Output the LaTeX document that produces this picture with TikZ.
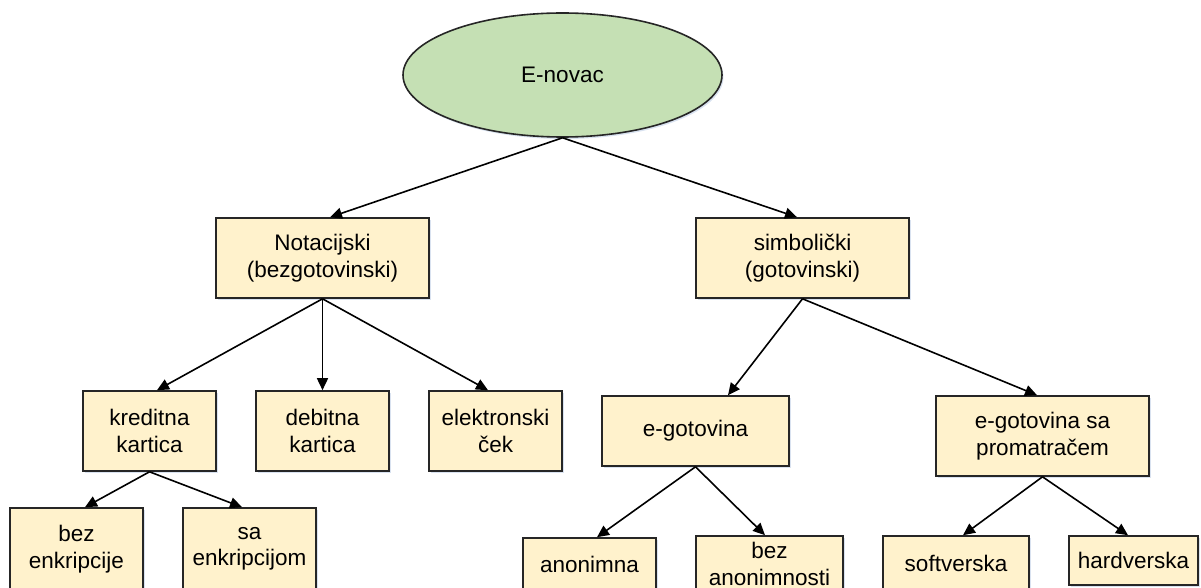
\documentclass[tikz,border=0pt]{standalone}
\usepackage{fontspec}
\setmainfont{Liberation Sans}
\usetikzlibrary{arrows.meta,shapes.geometric,shadows}
\definecolor{boxfill}{HTML}{FFF2CC}
\definecolor{ellfill}{HTML}{C5E0B4}
\definecolor{edge}{HTML}{262626}
\definecolor{shadowc}{HTML}{C9D6EA}
\tikzset{
  shad/.style={drop shadow={shadow xshift=1.5pt,shadow yshift=-2pt,fill=shadowc,opacity=0.7}},
  box/.style={draw=edge,line width=1.6pt,fill=boxfill,shad,inner sep=0pt,align=center,
    font=\fontsize{22.5}{26.5}\selectfont},
  ell/.style={ellipse,draw=edge,line width=1.6pt,fill=ellfill,shad,inner sep=0pt,
    minimum width=319pt,minimum height=124pt,font=\fontsize{22.5}{26.5}\selectfont},
  arr/.style={line width=1.6pt,-{Triangle[length=12pt,width=11pt]}}
}
\begin{document}
\begin{tikzpicture}[x=1pt,y=-1pt]
\useasboundingbox (0,0) rectangle (1201,588);
\node[ell] (root) at (562.5,75) {E-novac};
\node[box,minimum width=213pt,minimum height=80pt] (nota) at (322.5,258) {Notacijski\\(bezgotovinski)};
\node[box,minimum width=213pt,minimum height=80pt] (simb) at (802.5,258) {simbolički\\(gotovinski)};
\node[box,minimum width=133pt,minimum height=80pt] (kred) at (149.5,431) {kreditna\\kartica};
\node[box,minimum width=133pt,minimum height=80pt] (debi) at (322.5,431) {debitna\\kartica};
\node[box,minimum width=133pt,minimum height=80pt] (elek) at (495.5,431) {elektronski\\ček};
\node[box,minimum width=187pt,minimum height=70pt] (egot) at (695.5,431) {e-gotovina};
\node[box,minimum width=213pt,minimum height=80pt] (egsp) at (1042.5,436) {e-gotovina sa\\promatračem};
\node[box,minimum width=133pt,minimum height=82pt] (bezenk) at (76.5,549) {bez\\enkripcije};
\node[box,minimum width=133pt,minimum height=82pt] (saenk) at (249.5,549) {sa\\enkripcijom};
\node[box,minimum width=133pt,minimum height=52pt] (anon) at (589.5,564) {anonimna};
\node[box,minimum width=147pt,minimum height=56pt] (bezanon) at (769.5,564) {bez\\anonimnosti};
\node[box,minimum width=146pt,minimum height=54pt] (soft) at (956,563) {softverska};
\node[box,minimum width=129pt,minimum height=49pt] (hard) at (1133.5,560.5) {hardverska};

\draw[arr] (root.south) -- ([xshift=7.5pt]nota.north);
\draw[arr] (root.south) -- ([xshift=-5.5pt]simb.north);
\draw[arr] (nota.south) -- ([xshift=7.5pt]kred.north);
\draw[arr] (nota.south) -- (debi.north);
\draw[arr] (nota.south) -- ([xshift=-7.5pt]elek.north);
\draw[arr] (simb.south) -- ([xshift=32.5pt]egot.north);
\draw[arr] (simb.south) -- ([xshift=-5.5pt]egsp.north);
\draw[arr] (kred.south) -- ([xshift=8.5pt]bezenk.north);
\draw[arr] (kred.south) -- ([xshift=-7.5pt]saenk.north);
\draw[arr] (egot.south) -- ([xshift=7.5pt]anon.north);
\draw[arr] (egot.south) -- ([xshift=-4.5pt]bezanon.north);
\draw[arr] (egsp.south) -- ([xshift=7pt]soft.north);
\draw[arr] (egsp.south) -- ([xshift=-5.5pt]hard.north);
\end{tikzpicture}
\end{document}
